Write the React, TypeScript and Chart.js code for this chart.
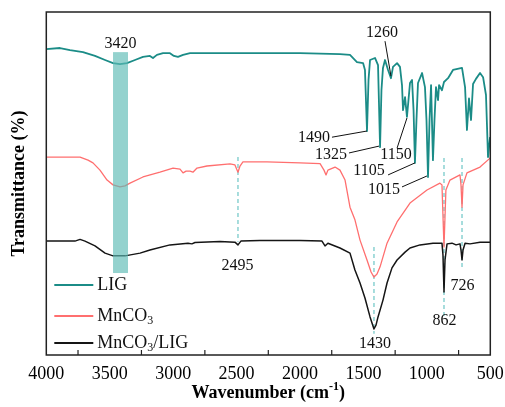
import React, { useEffect, useRef } from "react";
import { Chart, registerables } from "chart.js";

Chart.register(...registerables);

// ---------- data ----------
const xTickValues = [4000, 3500, 3000, 2500, 2000, 1500, 1000, 500];
const minorTickValues = [3750, 3250, 2750, 2250, 1750, 1250, 750];

const seriesNames = ["LIG", "MnCO3", "MnCO3/LIG"];

const ligWn = [4000, 3892, 3813, 3711, 3616, 3537, 3474, 3419, 3364, 3301, 3238, 3183, 3159, 3128, 3080, 3025, 2994, 2962, 2922, 2867, 2528, 2000, 1685, 1606, 1551, 1503, 1488, 1472, 1460, 1448, 1409, 1385, 1369, 1358, 1346, 1330, 1306, 1283, 1267, 1235, 1212, 1196, 1188, 1172, 1157, 1145, 1133, 1117, 1105, 1094, 1082, 1070, 1038, 1015, 1003, 991, 979, 967, 952, 940, 928, 912, 904, 881, 865, 833, 794, 723, 699, 684, 668, 652, 636, 613, 581, 557, 534, 518, 502, 500];
const ligT = [89.2, 89.5, 88.9, 88.3, 87.2, 86.0, 85.1, 84.8, 85.1, 86.0, 86.9, 87.2, 86.6, 87.5, 88.0, 88.0, 87.2, 86.9, 87.5, 88.0, 88.0, 88.0, 87.7, 87.5, 85.4, 85.1, 83.1, 65.3, 80.2, 86.0, 86.6, 84.5, 60.6, 77.2, 83.7, 86.0, 83.1, 80.7, 84.0, 85.1, 84.0, 78.7, 71.4, 75.2, 69.4, 74.3, 79.3, 80.2, 71.4, 56.0, 68.5, 79.3, 82.2, 78.1, 68.5, 51.9, 68.5, 78.7, 56.8, 68.5, 78.1, 74.3, 78.7, 77.2, 79.6, 80.7, 83.1, 83.7, 78.1, 65.6, 74.8, 68.5, 79.0, 80.5, 82.2, 81.0, 75.8, 57.7, 63.5, 63.5];

const mnWn = [4000, 3734, 3671, 3632, 3577, 3521, 3474, 3419, 3380, 3340, 3238, 3104, 3001, 2946, 2922, 2898, 2867, 2844, 2812, 2734, 2552, 2513, 2489, 2473, 2450, 2261, 2000, 1842, 1811, 1795, 1780, 1724, 1685, 1645, 1606, 1567, 1527, 1472, 1440, 1417, 1393, 1369, 1314, 1235, 1133, 999, 897, 881, 865, 850, 818, 739, 731, 723, 715, 684, 581, 502, 500];
const mnT = [57.7, 57.7, 56.8, 56.0, 53.9, 51.0, 49.6, 49.0, 49.3, 50.1, 51.9, 53.3, 54.5, 54.2, 53.1, 53.6, 53.6, 53.3, 54.5, 55.1, 55.7, 55.4, 53.3, 55.1, 56.3, 56.3, 56.0, 55.8, 53.9, 52.5, 53.9, 54.8, 53.9, 51.0, 43.1, 39.4, 33.5, 27.7, 24.2, 22.7, 23.6, 25.7, 32.6, 38.8, 44.3, 48.1, 50.1, 49.6, 31.5, 48.1, 51.0, 52.5, 49.6, 43.1, 49.6, 53.1, 54.8, 57.4, 57.6];

const compWn = [4000, 3774, 3734, 3695, 3616, 3537, 3474, 3380, 3261, 3183, 3025, 2883, 2852, 2828, 2631, 2513, 2489, 2466, 2316, 2000, 1827, 1803, 1780, 1685, 1606, 1567, 1527, 1488, 1448, 1417, 1401, 1385, 1346, 1314, 1275, 1235, 1172, 1133, 1054, 952, 881, 873, 865, 857, 841, 802, 770, 739, 731, 723, 715, 699, 660, 581, 500];
const compT = [33.2, 33.2, 33.7, 33.2, 31.8, 29.7, 28.9, 28.9, 29.7, 30.6, 32.1, 32.6, 32.4, 32.8, 33.1, 32.9, 32.1, 33.2, 33.4, 33.4, 33.2, 31.8, 32.6, 31.2, 29.7, 24.8, 21.0, 16.6, 11.1, 7.6, 8.7, 11.1, 16.0, 21.0, 25.4, 27.7, 30.0, 31.2, 32.1, 32.6, 32.6, 29.1, 18.4, 27.7, 32.4, 32.6, 32.1, 32.4, 30.6, 27.7, 30.6, 32.6, 32.4, 32.9, 32.9];

// highlighted O-H band (wavenumber range, transmittance range)
const bandWn = [3474, 3356];
const bandT = [23.9, 88.3];

// dashed reference lines
const markerWn = [2489, 1417, 865, 723];
const markerTop = [57.7, 31.5, 57.4, 57.4];
const markerBottom = [33.0, 6.2, 10.8, 25.6];

// ---------- layout / style ----------
const FONT = "'Liberation Serif', 'Times New Roman', serif";
const COLORS = ["#1b8c87", "#ff6f6f", "#151515"];
const WIDTHS = [1.8, 1.3, 1.5];

type Ann = { text: string; at: [number, number]; leader?: [number, number, number, number] };
const annotations: Ann[] = [
  { text: "3420", at: [3415, 90.7] },
  { text: "1260", at: [1354, 93.9], leader: [1330, 91.5, 1283, 81.3] },
  { text: "1490", at: [1889, 63.3], leader: [1748, 63.5, 1472, 65.3] },
  { text: "1325", at: [1755, 58.3], leader: [1614, 58.9, 1377, 60.9] },
  { text: "1150", at: [1243, 58.3], leader: [1235, 60.3, 1157, 69.1] },
  { text: "1105", at: [1456, 53.6], leader: [1306, 52.5, 1094, 56.0] },
  { text: "1015", at: [1338, 48.1], leader: [1196, 49.0, 999, 52.2] },
  { text: "2495", at: [2493, 25.9] },
  { text: "1430", at: [1409, 3.2] },
  { text: "862", at: [861, 9.9] },
  { text: "726", at: [720, 20.1] },
];

type Part = { t: string; size: number; dy: number; bold?: boolean };
function drawParts(ctx: CanvasRenderingContext2D, parts: Part[], x: number, y: number, align: "left" | "center") {
  let total = 0;
  for (const p of parts) {
    ctx.font = `${p.bold ? "bold " : ""}${p.size}px ${FONT}`;
    total += ctx.measureText(p.t).width;
  }
  let cx = align === "center" ? x - total / 2 : x;
  ctx.textAlign = "left";
  for (const p of parts) {
    ctx.font = `${p.bold ? "bold " : ""}${p.size}px ${FONT}`;
    ctx.fillText(p.t, cx, y + p.dy);
    cx += ctx.measureText(p.t).width;
  }
}

const decorPlugin = {
  id: "decor",
  beforeDatasetsDraw(chart: any) {
    const { ctx, chartArea } = chart;
    const xs = chart.scales.x;
    const ys = chart.scales.y;
    ctx.save();
    ctx.beginPath();
    ctx.rect(chartArea.left, chartArea.top, chartArea.right - chartArea.left, chartArea.bottom - chartArea.top);
    ctx.clip();
    ctx.strokeStyle = "#6cc6c6";
    ctx.lineWidth = 1.2;
    ctx.setLineDash([4, 3]);
    markerWn.forEach((w, i) => {
      const px = xs.getPixelForValue(w);
      ctx.beginPath();
      ctx.moveTo(px, ys.getPixelForValue(markerTop[i]));
      ctx.lineTo(px, ys.getPixelForValue(markerBottom[i]));
      ctx.stroke();
    });
    ctx.restore();
  },
  afterDatasetsDraw(chart: any) {
    const { ctx, chartArea } = chart;
    const xs = chart.scales.x;
    const ys = chart.scales.y;
    ctx.save();
    const bx1 = xs.getPixelForValue(bandWn[0]);
    const bx2 = xs.getPixelForValue(bandWn[1]);
    const by1 = ys.getPixelForValue(bandT[1]);
    const by2 = ys.getPixelForValue(bandT[0]);
    ctx.fillStyle = "rgba(92,186,180,0.66)";
    ctx.fillRect(Math.min(bx1, bx2), by1, Math.abs(bx2 - bx1), by2 - by1);

    ctx.strokeStyle = "#222";
    ctx.lineWidth = 1.5;
    ctx.strokeRect(chartArea.left, chartArea.top, chartArea.right - chartArea.left, chartArea.bottom - chartArea.top);

    ctx.lineWidth = 1.2;
    minorTickValues.forEach((w) => {
      const px = xs.getPixelForValue(w);
      ctx.beginPath();
      ctx.moveTo(px, chartArea.bottom);
      ctx.lineTo(px, chartArea.bottom - 5);
      ctx.stroke();
    });

    ctx.fillStyle = "#111";
    ctx.textBaseline = "middle";
    ctx.textAlign = "center";
    ctx.font = `16px ${FONT}`;
    ctx.strokeStyle = "#111";
    ctx.lineWidth = 1;
    annotations.forEach((a) => {
      ctx.fillText(a.text, xs.getPixelForValue(a.at[0]), ys.getPixelForValue(a.at[1]));
      if (a.leader) {
        ctx.beginPath();
        ctx.moveTo(xs.getPixelForValue(a.leader[0]), ys.getPixelForValue(a.leader[1]));
        ctx.lineTo(xs.getPixelForValue(a.leader[2]), ys.getPixelForValue(a.leader[3]));
        ctx.stroke();
      }
    });

    const lx = chartArea.left + 8;
    const rows = [285, 316, 343];
    rows.forEach((ry, i) => {
      ctx.strokeStyle = COLORS[i];
      ctx.lineWidth = 2;
      ctx.beginPath();
      ctx.moveTo(lx, ry);
      ctx.lineTo(lx + 39, ry);
      ctx.stroke();
      ctx.fillStyle = "#111";
      ctx.textBaseline = "middle";
      const name = seriesNames[i];
      if (name.startsWith("MnCO3")) {
        const parts: Part[] = [
          { t: "MnCO", size: 18, dy: 0 },
          { t: "3", size: 12, dy: 5 },
        ];
        const rest = name.slice(5);
        if (rest) parts.push({ t: rest, size: 18, dy: 0 });
        drawParts(ctx, parts, lx + 43, ry, "left");
      } else {
        ctx.font = `18px ${FONT}`;
        ctx.textAlign = "left";
        ctx.fillText(name, lx + 43, ry);
      }
    });

    ctx.fillStyle = "#000";
    ctx.textBaseline = "middle";
    drawParts(
      ctx,
      [
        { t: "Wavenumber (cm", size: 18, dy: 0, bold: true },
        { t: "-1", size: 12, dy: -6, bold: true },
        { t: ")", size: 18, dy: 0, bold: true },
      ],
      (chartArea.left + chartArea.right) / 2,
      393,
      "center"
    );
    ctx.save();
    ctx.translate(19, (chartArea.top + chartArea.bottom) / 2);
    ctx.rotate(-Math.PI / 2);
    ctx.font = `bold 18px ${FONT}`;
    ctx.textAlign = "center";
    ctx.fillText("Transmittance (%)", 0, 0);
    ctx.restore();
    ctx.restore();
  },
};

function toPoints(wn: number[], t: number[]) {
  return wn.map((w, i) => ({ x: w, y: t[i] }));
}

export default function App() {
  const ref = useRef<HTMLCanvasElement | null>(null);
  useEffect(() => {
    document.body.style.margin = "0";
    if (!ref.current) return;
    const chart = new Chart(ref.current, {
      type: "line",
      data: {
        datasets: [
          { label: seriesNames[0], data: toPoints(ligWn, ligT), borderColor: COLORS[0], borderWidth: WIDTHS[0] },
          { label: seriesNames[1], data: toPoints(mnWn, mnT), borderColor: COLORS[1], borderWidth: WIDTHS[1] },
          { label: seriesNames[2], data: toPoints(compWn, compT), borderColor: COLORS[2], borderWidth: WIDTHS[2] },
        ].map((d) => ({ ...d, pointRadius: 0, tension: 0, fill: false, borderJoinStyle: "round" as const })),
      },
      options: {
        responsive: false,
        animation: false,
        layout: { padding: { top: 12, right: 14.7, left: 0, bottom: 0 } },
        plugins: { legend: { display: false }, tooltip: { enabled: false } },
        scales: {
          x: {
            type: "linear",
            min: 500,
            max: 4000,
            reverse: true,
            afterFit: (s: any) => {
              s.height = 52;
              s.paddingLeft = 0;
              s.paddingRight = 0;
            },
            afterBuildTicks: (s: any) => {
              s.ticks = xTickValues.map((v) => ({ value: v }));
            },
            grid: { display: false, drawTicks: false },
            border: { display: false },
            ticks: {
              autoSkip: false,
              maxRotation: 0,
              padding: 8,
              color: "#000",
              font: { family: FONT, size: 18 },
              callback: (v: any) => String(v),
            },
          },
          y: {
            min: 0,
            max: 100,
            afterFit: (s: any) => {
              s.width = 46.3;
            },
            grid: { display: false, drawTicks: false },
            border: { display: false },
            ticks: { display: false },
          },
        },
      },
      plugins: [decorPlugin],
    });
    return () => chart.destroy();
  }, []);
  return (
    <div style={{ position: "fixed", left: 0, top: 0, width: 505, height: 407, background: "#fff" }}>
      <canvas ref={ref} width={505} height={407} />
    </div>
  );
}
